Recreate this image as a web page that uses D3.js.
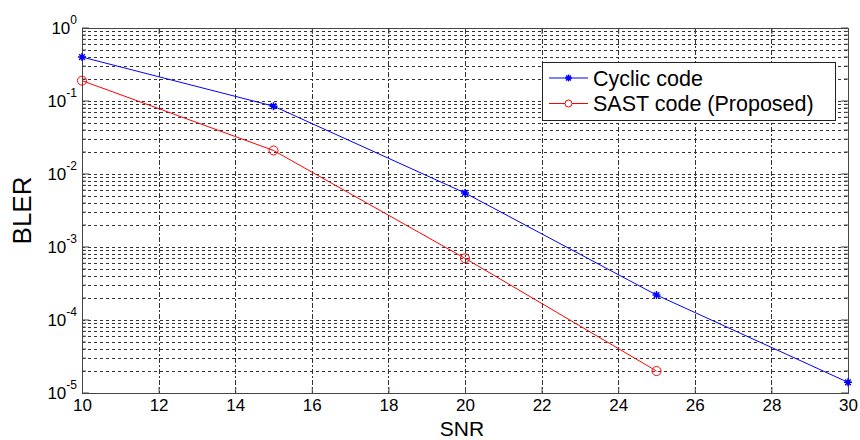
<!DOCTYPE html>
<html>
<head>
<meta charset="utf-8">
<script src="https://cdn.jsdelivr.net/npm/d3@7"></script>
<style>
  body { margin: 0; background: #fff; }
  svg text { font-family: "Liberation Sans", Arial, sans-serif; fill: #000; }
</style>
</head>
<body>
<svg id="chart" width="860" height="440"></svg>
<script>
// data
const snr = [10, 15, 20, 25, 30];
const cyclic = [0.4, 0.085, 0.0055, 0.00022, 0.000014];
const sastSnr = [10, 15, 20, 25];
const sast = [0.19, 0.021, 0.0007, 0.00002];
const xTicks = [10, 12, 14, 16, 18, 20, 22, 24, 26, 28, 30];
const yExps = [0, -1, -2, -3, -4, -5];

const svg = d3.select("#chart");
const m = { left: 82, right: 848, top: 28, bottom: 393 };

const x = d3.scaleLinear().domain([10, 30]).range([m.left, m.right]);
const y = d3.scaleLog().domain([1e-5, 1]).range([m.bottom, m.top]);

// minor grid values
const minor = [];
for (let e = -5; e < 0; e++) {
  for (let k = 2; k <= 9; k++) minor.push(k * Math.pow(10, e));
}

// grid
const grid = svg.append("g").attr("stroke", "#333").attr("stroke-width", 1)
  .attr("stroke-dasharray", "3,3");
grid.selectAll("line.hy")
  .data(minor.concat(yExps.slice(1, 5).map(e => Math.pow(10, e))))
  .enter().append("line")
  .attr("x1", m.left).attr("x2", m.right)
  .attr("y1", d => Math.round(y(d)) + 0.5).attr("y2", d => Math.round(y(d)) + 0.5);
grid.selectAll("line.vx")
  .data(xTicks.slice(1, -1))
  .enter().append("line")
  .attr("stroke-dasharray", "5,2,2,2")
  .attr("y1", m.top).attr("y2", m.bottom)
  .attr("x1", d => Math.round(x(d)) + 0.5).attr("x2", d => Math.round(x(d)) + 0.5);

// axes (inward ticks)
const xAxis = d3.axisBottom(x).tickValues(xTicks).tickSizeInner(-6).tickSizeOuter(0).tickPadding(0);
const gx = svg.append("g").attr("transform", `translate(0,${m.bottom})`).call(xAxis);
gx.select(".domain").remove();
gx.selectAll("line").attr("stroke", "#444");
gx.selectAll("text").attr("font-size", 17).attr("y", 18).attr("dy", null)
  .attr("font-family", "Liberation Sans, Arial, sans-serif");

const xTop = d3.axisTop(x).tickValues(xTicks).tickSizeInner(-6).tickSizeOuter(0).tickFormat("");
const gxt = svg.append("g").attr("transform", `translate(0,${m.top})`).call(xTop);
gxt.select(".domain").remove();
gxt.selectAll("line").attr("stroke", "#444");

// y ticks: major and minor, left and right
const yt = svg.append("g").attr("stroke", "#444");
yt.selectAll("line.maj").data(yExps).enter().append("line")
  .attr("x1", m.left).attr("x2", m.left + 7)
  .attr("y1", d => y(Math.pow(10, d))).attr("y2", d => y(Math.pow(10, d)));
yt.selectAll("line.min").data(minor).enter().append("line")
  .attr("x1", m.left).attr("x2", m.left + 4)
  .attr("y1", d => y(d)).attr("y2", d => y(d));
yt.selectAll("line.majr").data(yExps).enter().append("line")
  .attr("x1", m.right).attr("x2", m.right - 7)
  .attr("y1", d => y(Math.pow(10, d))).attr("y2", d => y(Math.pow(10, d)));
yt.selectAll("line.minr").data(minor).enter().append("line")
  .attr("x1", m.right).attr("x2", m.right - 4)
  .attr("y1", d => y(d)).attr("y2", d => y(d));

// y tick labels 10^e
const yl = svg.append("g").selectAll("text").data(yExps).enter().append("text")
  .attr("y", d => y(Math.pow(10, d)) + 6)
  .attr("font-size", 17);
yl.append("tspan").text("10");
yl.append("tspan").attr("dy", -10).attr("font-size", 12).text(d => d);
yl.each(function () {
  // the whole label ends just left of the axis
  const w = this.getComputedTextLength();
  d3.select(this).attr("x", m.left - 5 - w);
});

// frame
svg.append("rect").attr("x", m.left + 0.5).attr("y", m.top + 0.5)
  .attr("width", m.right - m.left).attr("height", m.bottom - m.top)
  .attr("fill", "none").attr("stroke", "#444").attr("stroke-width", 1);

// lines
const line = d3.line().x(d => x(d[0])).y(d => y(d[1]));
const cyc = snr.map((s, i) => [s, cyclic[i]]);
const sa = sastSnr.map((s, i) => [s, sast[i]]);

svg.append("path").datum(cyc).attr("d", line)
  .attr("fill", "none").attr("stroke", "#0000ff").attr("stroke-width", 1);
svg.append("path").datum(sa).attr("d", line)
  .attr("fill", "none").attr("stroke", "#ff0000").attr("stroke-width", 1);

const star = (g, cx, cy, r) => {
  const p = `M${cx - r},${cy}L${cx + r},${cy}M${cx},${cy - r}L${cx},${cy + r}` +
    `M${cx - r * 0.7},${cy - r * 0.7}L${cx + r * 0.7},${cy + r * 0.7}` +
    `M${cx - r * 0.7},${cy + r * 0.7}L${cx + r * 0.7},${cy - r * 0.7}`;
  g.append("path").attr("d", p).attr("stroke", "#0000ff").attr("stroke-width", 1.5);
};
const mk = svg.append("g");
cyc.forEach(d => star(mk, x(d[0]), y(d[1]), 4));
mk.selectAll("circle").data(sa).enter().append("circle")
  .attr("cx", d => x(d[0])).attr("cy", d => y(d[1])).attr("r", 4.5)
  .attr("fill", "none").attr("stroke", "#ff0000").attr("stroke-width", 1);

// legend
const lg = svg.append("g");
lg.append("rect").attr("x", 542.5).attr("y", 62.5).attr("width", 293).attr("height", 58)
  .attr("fill", "#fff").attr("stroke", "#222");
const legendNames = ["Cyclic code", "SAST code (Proposed)"];
const legendColors = ["#0000ff", "#ff0000"];
legendNames.forEach((name, i) => {
  const ly = 78 + i * 25.5;
  lg.append("line").attr("x1", 549).attr("x2", 588).attr("y1", ly).attr("y2", ly)
    .attr("stroke", legendColors[i]);
  if (i === 0) star(lg, 568.5, ly, 3.5);
  else lg.append("circle").attr("cx", 568.5).attr("cy", ly).attr("r", 3.5)
    .attr("fill", "#fff").attr("stroke", "#ff0000");
  lg.append("text").attr("x", 593).attr("y", ly + 7.5).attr("font-size", 21.5).text(name);
});

// axis titles
svg.append("text").attr("x", 462).attr("y", 435.5)
  .attr("text-anchor", "middle").attr("font-size", 21).text("SNR");
svg.append("text").attr("transform", `translate(31,${(m.top + m.bottom) / 2}) rotate(-90)`)
  .attr("text-anchor", "middle").attr("font-size", 26).text("BLER");
</script>
</body>
</html>
